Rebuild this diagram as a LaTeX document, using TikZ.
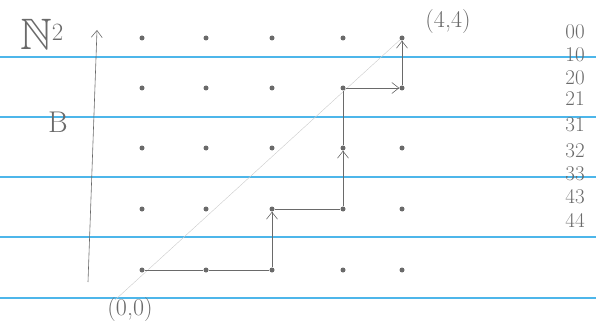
\documentclass[tikz,border=0pt]{standalone}
\usepackage{amssymb}
\usepackage{tikz}
\usetikzlibrary{arrows.meta}
\definecolor{ruling}{HTML}{4DB6EA}
\definecolor{pencil}{HTML}{6A6A6A}
\tikzset{
    dot/.style={circle, fill=pencil, inner sep=0pt, minimum size=5pt},
    rule/.style={draw=ruling, line width=1.2pt},
    sketch/.style={draw=pencil, semithick, -{Straight Barb[length=7pt, width=11pt]}}
}

\begin{document}
\begin{tikzpicture}[x=1pt, y=-1pt, font=\fontsize{24}{26}\selectfont]
    \useasboundingbox (0,0) rectangle (596,326);

    % Ruled paper
    \path[rule] (0,57) -- (596,57);
    \path[rule] (0,117) -- (596,117);
    \path[rule] (0,177) -- (596,177);
    \path[rule] (0,237) -- (596,237);
    \path[rule] (0,298) -- (596,298);

    % Lattice points
    \foreach \i/\x in {0/142,1/206,2/272,3/343,4/402}
        \foreach \j/\y in {0/270,1/209,2/148,3/88,4/38}
            \node[dot] (d\i\j) at (\x,\y) {};

    % Axis
    \coordinate (ax0) at (88,282);
    \coordinate (ax1) at (97,30);
    \draw[sketch] (ax0) -- (ax1);

    % Diagonal (faint)
    \coordinate (diag0) at (115,300);
    \draw[pencil!35] (diag0) -- (d44);

    % Path from (0,0) to (4,4)
    \draw[pencil, semithick] (d00) -- (d10) -- (d20);
    \draw[sketch] (d20) -- (d21);
    \draw[pencil, semithick] (d21) -- (d31);
    \draw[sketch] (d31) -- (d32);
    \draw[pencil, semithick] (d32) -- (d33);
    \draw[sketch] (d33) -- (d43);
    \draw[sketch] (d43) -- (d44);

    % Labels
    \node[pencil, font=\fontsize{44}{46}\selectfont] (nn) at (42,34) {$\mathbb{N}^2$};
    \node[pencil, font=\fontsize{30}{32}\selectfont] (b) at (58,122) {B};
    \node[pencil] (end) at (448,22) {(4,4)};
    \node[pencil] (start) at (130,310) {(0,0)};

    % Steps of the path
    \foreach \k/\t/\y in {1/00/32,2/10/55,3/20/78,4/21/99,5/31/125,6/32/151,7/33/174,8/43/197,9/44/220}
        \node[pencil, inner sep=0pt, font=\fontsize{21}{22}\selectfont] (s\k) at (575,\y) {\t};
\end{tikzpicture}
\end{document}
